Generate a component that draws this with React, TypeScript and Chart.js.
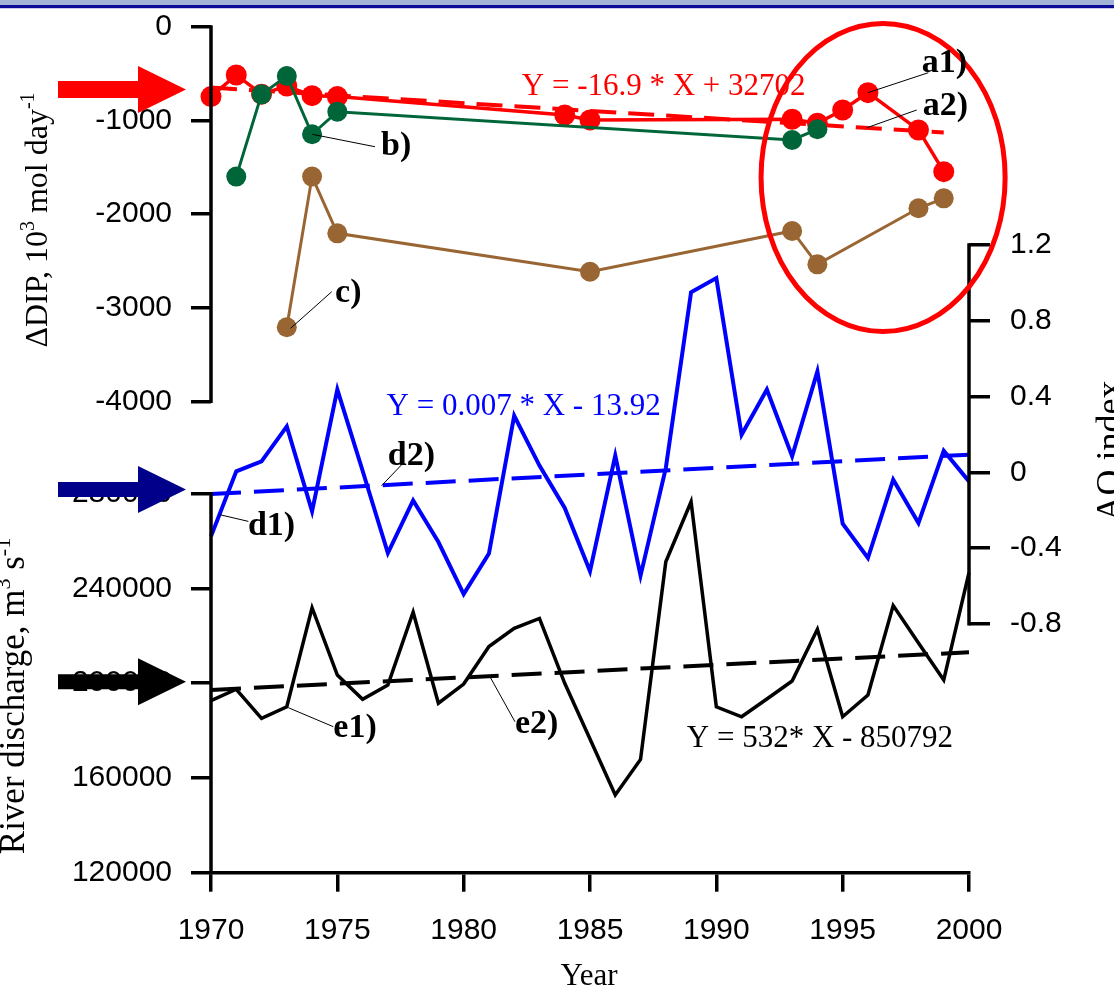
import React, { useEffect, useRef } from "react";
import { Chart, registerables } from "chart.js";

Chart.register(...registerables);

// ---------- Data ----------
const xTicks = [1970, 1975, 1980, 1985, 1990, 1995, 2000];
const dipTicks = [0, -1000, -2000, -3000, -4000];
const qTicks = [280000, 240000, 200000, 160000, 120000];
const aoTicks = [1.2, 0.8, 0.4, 0, -0.4, -0.8];

// a1) ΔDIP (red)
const redYears = [1970, 1971, 1972, 1973, 1974, 1975, 1984, 1985, 1993, 1994, 1995, 1996, 1998, 1999];
const redDip = [-746, -515, -720, -633, -736, -746, -942, -995, -988, -1030, -889, -704, -1102, -1547];
// a2) linear trend of a1
const redTrendYears = [1970, 1999];
const redTrend = [-650, -1130];
// b) ΔDIP (green)
const greenYears = [1971, 1972, 1973, 1974, 1975, 1993, 1994];
const greenDip = [-1600, -722, -526, -1148, -907, -1209, -1095];
// c) ΔDIP (brown)
const brownYears = [1973, 1974, 1975, 1985, 1993, 1994, 1998, 1999];
const brownDip = [-3208, -1600, -2205, -2615, -2180, -2536, -1938, -1832];

// d1) AO index, yearly 1970-2000
const aoYears = [
  1970, 1971, 1972, 1973, 1974, 1975, 1976, 1977, 1978, 1979, 1980, 1981, 1982, 1983, 1984, 1985,
  1986, 1987, 1988, 1989, 1990, 1991, 1992, 1993, 1994, 1995, 1996, 1997, 1998, 1999, 2000,
];
const aoIndex = [
  -0.338, 0.005, 0.057, 0.242, -0.206, 0.436, 0.008, -0.426, -0.148, -0.368, -0.642, -0.429, 0.298, 0.035,
  -0.188, -0.522, 0.088, -0.545, 0.022, 0.949, 1.024, 0.198, 0.436, 0.084, 0.532, -0.271, -0.452, -0.039,
  -0.267, 0.114, -0.048,
];
// d2) AO trend
const aoTrendYears = [1970, 2000];
const aoTrend = [-0.115, 0.093];

// e1) River discharge
const discharge = [
  192600, 197400, 185100, 190000, 231800, 203400, 193200, 199200, 229900, 191500, 199600, 215400, 223100,
  227300, 199900, 176400, 152800, 167800, 251200, 276500, 190000, 185800, 193300, 200900, 222700, 185800,
  195000, 232700, 216900, 201300, 246600,
];
// e2) discharge trend
const qTrendYears = [1970, 2000];
const qTrend = [197100, 213000];

const eqRed = "Y = -16.9 * X + 32702";
const eqBlue = "Y = 0.007 * X - 13.92";
const eqBlack = "Y = 532* X - 850792";

// ---------- Style ----------
const RED = "#FF0000";
const GREEN = "#00663A";
const BROWN = "#996633";
const BLUE = "#0000FF";
const NAVY = "#00008B";
const SANS = "'Liberation Sans', Arial, sans-serif";
const SERIF = "'Liberation Serif', 'Times New Roman', serif";

const pts = (xs: number[], ys: number[]) => xs.map((x, i) => ({ x, y: ys[i] }));

type Seg = { t: string; sup?: boolean };

function drawRich(ctx: CanvasRenderingContext2D, segs: Seg[], x: number, y: number, size: number, rotate: boolean, color: string) {
  ctx.save();
  ctx.translate(x, y);
  if (rotate) ctx.rotate(-Math.PI / 2);
  ctx.fillStyle = color;
  ctx.textBaseline = "alphabetic";
  ctx.textAlign = "left";
  let total = 0;
  const widths: number[] = [];
  segs.forEach((s) => {
    ctx.font = `${s.sup ? Math.round(size * 0.62) : size}px ${SERIF}`;
    const w = ctx.measureText(s.t).width;
    widths.push(w);
    total += w;
  });
  let cx = -total / 2;
  segs.forEach((s, i) => {
    ctx.font = `${s.sup ? Math.round(size * 0.62) : size}px ${SERIF}`;
    ctx.fillText(s.t, cx, s.sup ? -size * 0.4 : 0);
    cx += widths[i];
  });
  ctx.restore();
}

const overlayPlugin = {
  id: "overlay",
  afterDraw(chart: any) {
    const ctx: CanvasRenderingContext2D = chart.ctx;
    const { x, yDIP, yQ, yAO } = chart.scales;
    const area = chart.chartArea;
    const X = (v: number) => x.getPixelForValue(v);
    ctx.save();

    // axis lines
    ctx.strokeStyle = "#000";
    ctx.lineWidth = 3.5;
    ctx.lineCap = "butt";
    const vline = (px: number, y1: number, y2: number) => {
      ctx.beginPath();
      ctx.moveTo(px, y1 - 1.5);
      ctx.lineTo(px, y2 + 1.5);
      ctx.stroke();
    };
    vline(area.left, yDIP.getPixelForValue(dipTicks[0]), yDIP.getPixelForValue(dipTicks[dipTicks.length - 1]));
    vline(area.left, yQ.getPixelForValue(qTicks[0]), yQ.getPixelForValue(qTicks[qTicks.length - 1]));
    vline(area.right, yAO.getPixelForValue(aoTicks[0]), yAO.getPixelForValue(aoTicks[aoTicks.length - 1]));

    // arrows pointing at the axes
    const arrow = (yc: number, color: string, shaftHalf: number) => {
      const tip = area.left - 25;
      const base = area.left - 73;
      const start = area.left - 153;
      ctx.fillStyle = color;
      ctx.beginPath();
      ctx.moveTo(start, yc - shaftHalf);
      ctx.lineTo(base, yc - shaftHalf);
      ctx.lineTo(base, yc - 23.5);
      ctx.lineTo(tip, yc);
      ctx.lineTo(base, yc + 23.5);
      ctx.lineTo(base, yc + shaftHalf);
      ctx.lineTo(start, yc + shaftHalf);
      ctx.closePath();
      ctx.fill();
    };
    arrow(yDIP.getPixelForValue(-670), RED, 8.5);
    arrow(yQ.getPixelForValue(281700), NAVY, 7.5);
    arrow(yQ.getPixelForValue(200600), "#000", 7.5);

    // ellipse around recent years
    const ecx = X(1996.6);
    const ecy = yDIP.getPixelForValue(-1609);
    const erx = X(1996.6 + 4.83) - ecx;
    const ery = yDIP.getPixelForValue(-1609 - 1644) - ecy;
    ctx.strokeStyle = RED;
    ctx.lineWidth = 5;
    ctx.beginPath();
    ctx.ellipse(ecx, ecy, erx, ery, 0, 0, Math.PI * 2);
    ctx.stroke();

    // leader lines
    ctx.strokeStyle = "#000";
    ctx.lineWidth = 1;
    const leader = (sc: any, x1: number, y1: number, x2: number, y2: number) => {
      ctx.beginPath();
      ctx.moveTo(X(x1), sc.getPixelForValue(y1));
      ctx.lineTo(X(x2), sc.getPixelForValue(y2));
      ctx.stroke();
    };
    leader(yDIP, 1996, -704, 1998.39, -491);
    leader(yDIP, 1995.96, -1078, 1997.93, -889);
    leader(yDIP, 1974, -1148, 1976.49, -1281);
    leader(yDIP, 1973.15, -3219, 1974.78, -2828);
    leader(yAO, 1970.36, -0.224, 1971.48, -0.259);
    leader(yAO, 1976.75, -0.071, 1977.61, 0.049);
    leader(yQ, 1973.06, 189620, 1974.84, 181603);
    leader(yQ, 1981.04, 202700, 1982.03, 183713);

    // series labels
    ctx.fillStyle = "#000";
    ctx.font = `bold 34px ${SERIF}`;
    ctx.textAlign = "left";
    ctx.textBaseline = "alphabetic";
    const label = (sc: any, t: string, xv: number, yv: number) => ctx.fillText(t, X(xv), sc.getPixelForValue(yv));
    label(yDIP, "a1)", 1998.13, -483);
    label(yDIP, "a2)", 1998.17, -943);
    label(yDIP, "b)", 1976.73, -1369);
    label(yDIP, "c)", 1974.91, -2938);
    label(yAO, "d1)", 1971.46, -0.329);
    label(yAO, "d2)", 1977.0, 0.04);
    label(yQ, "e1)", 1974.84, 177384);
    label(yQ, "e2)", 1982.03, 178819);

    // regression equations
    ctx.font = `31px ${SERIF}`;
    ctx.fillStyle = RED;
    ctx.fillText(eqRed, X(1982.3), yDIP.getPixelForValue(-730));
    ctx.fillStyle = BLUE;
    ctx.fillText(eqBlue, X(1976.95), yAO.getPixelForValue(0.303));
    ctx.fillStyle = "#000";
    ctx.fillText(eqBlack, X(1988.83), yQ.getPixelForValue(173165));

    // axis titles
    drawRich(ctx, [{ t: "ΔDIP, 10" }, { t: "3", sup: true }, { t: " mol day" }, { t: "-1", sup: true }], 47, 220, 32, true, "#000");
    drawRich(ctx, [{ t: "River discharge, m" }, { t: "3", sup: true }, { t: " s" }, { t: "-1", sup: true }], 24, 696, 35, true, "#000");
    drawRich(ctx, [{ t: "AO index" }], 1121, 451, 36, true, "#000");
    drawRich(ctx, [{ t: "Year" }], 589, 985, 31, false, "#000");

    ctx.restore();
  },
};

export default function App() {
  const ref = useRef<HTMLCanvasElement | null>(null);
  useEffect(() => {
    if (!ref.current) return;
    const tickFont = { family: SANS, size: 30 };
    const fixVertical = (s: any, width: number) => {
      s.width = width;
      s.paddingTop = 0;
      s.paddingBottom = 0;
      s._computeLabelArea = () => undefined;
    };
    const yCommon = (ticksArr: number[]) => ({
      type: "linear" as const,
      afterBuildTicks: (s: any) => {
        s.ticks = ticksArr.map((v) => ({ value: v }));
      },
      ticks: { font: tickFont, color: "#000", padding: 19, autoSkip: false, callback: (v: any) => String(v) },
      grid: { drawOnChartArea: false, tickLength: 20, lineWidth: 3.5, color: "#000" },
      border: { display: false },
    });
    const chart = new Chart(ref.current, {
      type: "line",
      data: {
        datasets: [
          {
            label: "b)",
            data: pts(greenYears, greenDip),
            yAxisID: "yDIP",
            borderColor: GREEN,
            backgroundColor: GREEN,
            borderWidth: 3,
            pointRadius: 10,
            pointBorderWidth: 0,
            pointBackgroundColor: GREEN,
            clip: false,
          },
          {
            label: "a1)",
            data: pts(redYears, redDip),
            yAxisID: "yDIP",
            borderColor: RED,
            backgroundColor: RED,
            borderWidth: 3.5,
            pointRadius: 10.5,
            pointBorderWidth: 0,
            pointBackgroundColor: RED,
            clip: false,
          },
          {
            label: "a2)",
            data: pts(redTrendYears, redTrend),
            yAxisID: "yDIP",
            borderColor: RED,
            borderWidth: 4,
            borderDash: [26, 12],
            pointRadius: 0,
            clip: false,
          },
          {
            label: "c)",
            data: pts(brownYears, brownDip),
            yAxisID: "yDIP",
            borderColor: BROWN,
            backgroundColor: BROWN,
            borderWidth: 3,
            pointRadius: 10,
            pointBorderWidth: 0,
            pointBackgroundColor: BROWN,
            clip: false,
          },
          {
            label: "d1)",
            data: pts(aoYears, aoIndex),
            yAxisID: "yAO",
            borderColor: BLUE,
            borderWidth: 4,
            pointRadius: 0,
            clip: false,
          },
          {
            label: "d2)",
            data: pts(aoTrendYears, aoTrend),
            yAxisID: "yAO",
            borderColor: BLUE,
            borderWidth: 4,
            borderDash: [30, 13],
            pointRadius: 0,
            clip: false,
          },
          {
            label: "e1)",
            data: pts(aoYears, discharge),
            yAxisID: "yQ",
            borderColor: "#000",
            borderWidth: 3.5,
            pointRadius: 0,
            clip: false,
          },
          {
            label: "e2)",
            data: pts(qTrendYears, qTrend),
            yAxisID: "yQ",
            borderColor: "#000",
            borderWidth: 4,
            borderDash: [30, 13],
            pointRadius: 0,
            clip: false,
          },
        ],
      },
      options: {
        responsive: false,
        animation: false,
        devicePixelRatio: 1,
        elements: { line: { tension: 0 } },
        layout: { autoPadding: false, padding: { top: 26.7, left: 0, right: 0, bottom: 0 } },
        plugins: { legend: { display: false }, tooltip: { enabled: false } },
        scales: {
          x: {
            type: "linear",
            position: "bottom",
            min: 1970,
            max: 2000,
            afterBuildTicks: (s: any) => {
              s.ticks = xTicks.map((v) => ({ value: v }));
            },
            ticks: { font: tickFont, color: "#000", padding: 21, maxRotation: 0, autoSkip: false, callback: (v: any) => String(v) },
            grid: { drawOnChartArea: false, tickLength: 19, lineWidth: 3.5, color: "#000" },
            border: { display: true, width: 3.5, color: "#000" },
            afterFit: (s: any) => {
              s.height = 991 - 872.7;
              s.paddingLeft = 0;
              s.paddingRight = 0;
            },
          },
          yDIP: {
            ...yCommon(dipTicks),
            position: "left",
            weight: 2,
            min: -9029,
            max: 0,
            afterFit: (s: any) => fixVertical(s, 211),
          },
          yQ: {
            ...yCommon(qTicks),
            position: "left",
            weight: 1,
            min: 120000,
            max: 476962,
            afterFit: (s: any) => fixVertical(s, 0),
          },
          yAO: {
            ...yCommon(aoTicks),
            position: "right",
            min: -2.1114,
            max: 2.3495,
            ticks: { font: tickFont, color: "#000", padding: 20, autoSkip: false, callback: (v: any) => String(v) },
            grid: { drawOnChartArea: false, tickLength: 21, lineWidth: 3.5, color: "#000" },
            afterFit: (s: any) => fixVertical(s, 1114 - 969),
          },
        },
      } as any,
      plugins: [overlayPlugin],
    });
    return () => chart.destroy();
  }, []);

  return (
    <div style={{ position: "absolute", left: 0, top: 0, width: 1114, height: 991, background: "#fff", overflow: "hidden" }}>
      <canvas ref={ref} width={1114} height={991} style={{ display: "block" }} />
      <div style={{ position: "absolute", left: 0, top: 0, width: 1114, height: 5, background: "#A2B3D6" }} />
      <div style={{ position: "absolute", left: 0, top: 5, width: 1114, height: 3, background: "#0A0A96" }} />
      <div style={{ position: "absolute", left: 0, top: 8, width: 1114, height: 1, background: "#C9C9EE" }} />
    </div>
  );
}
